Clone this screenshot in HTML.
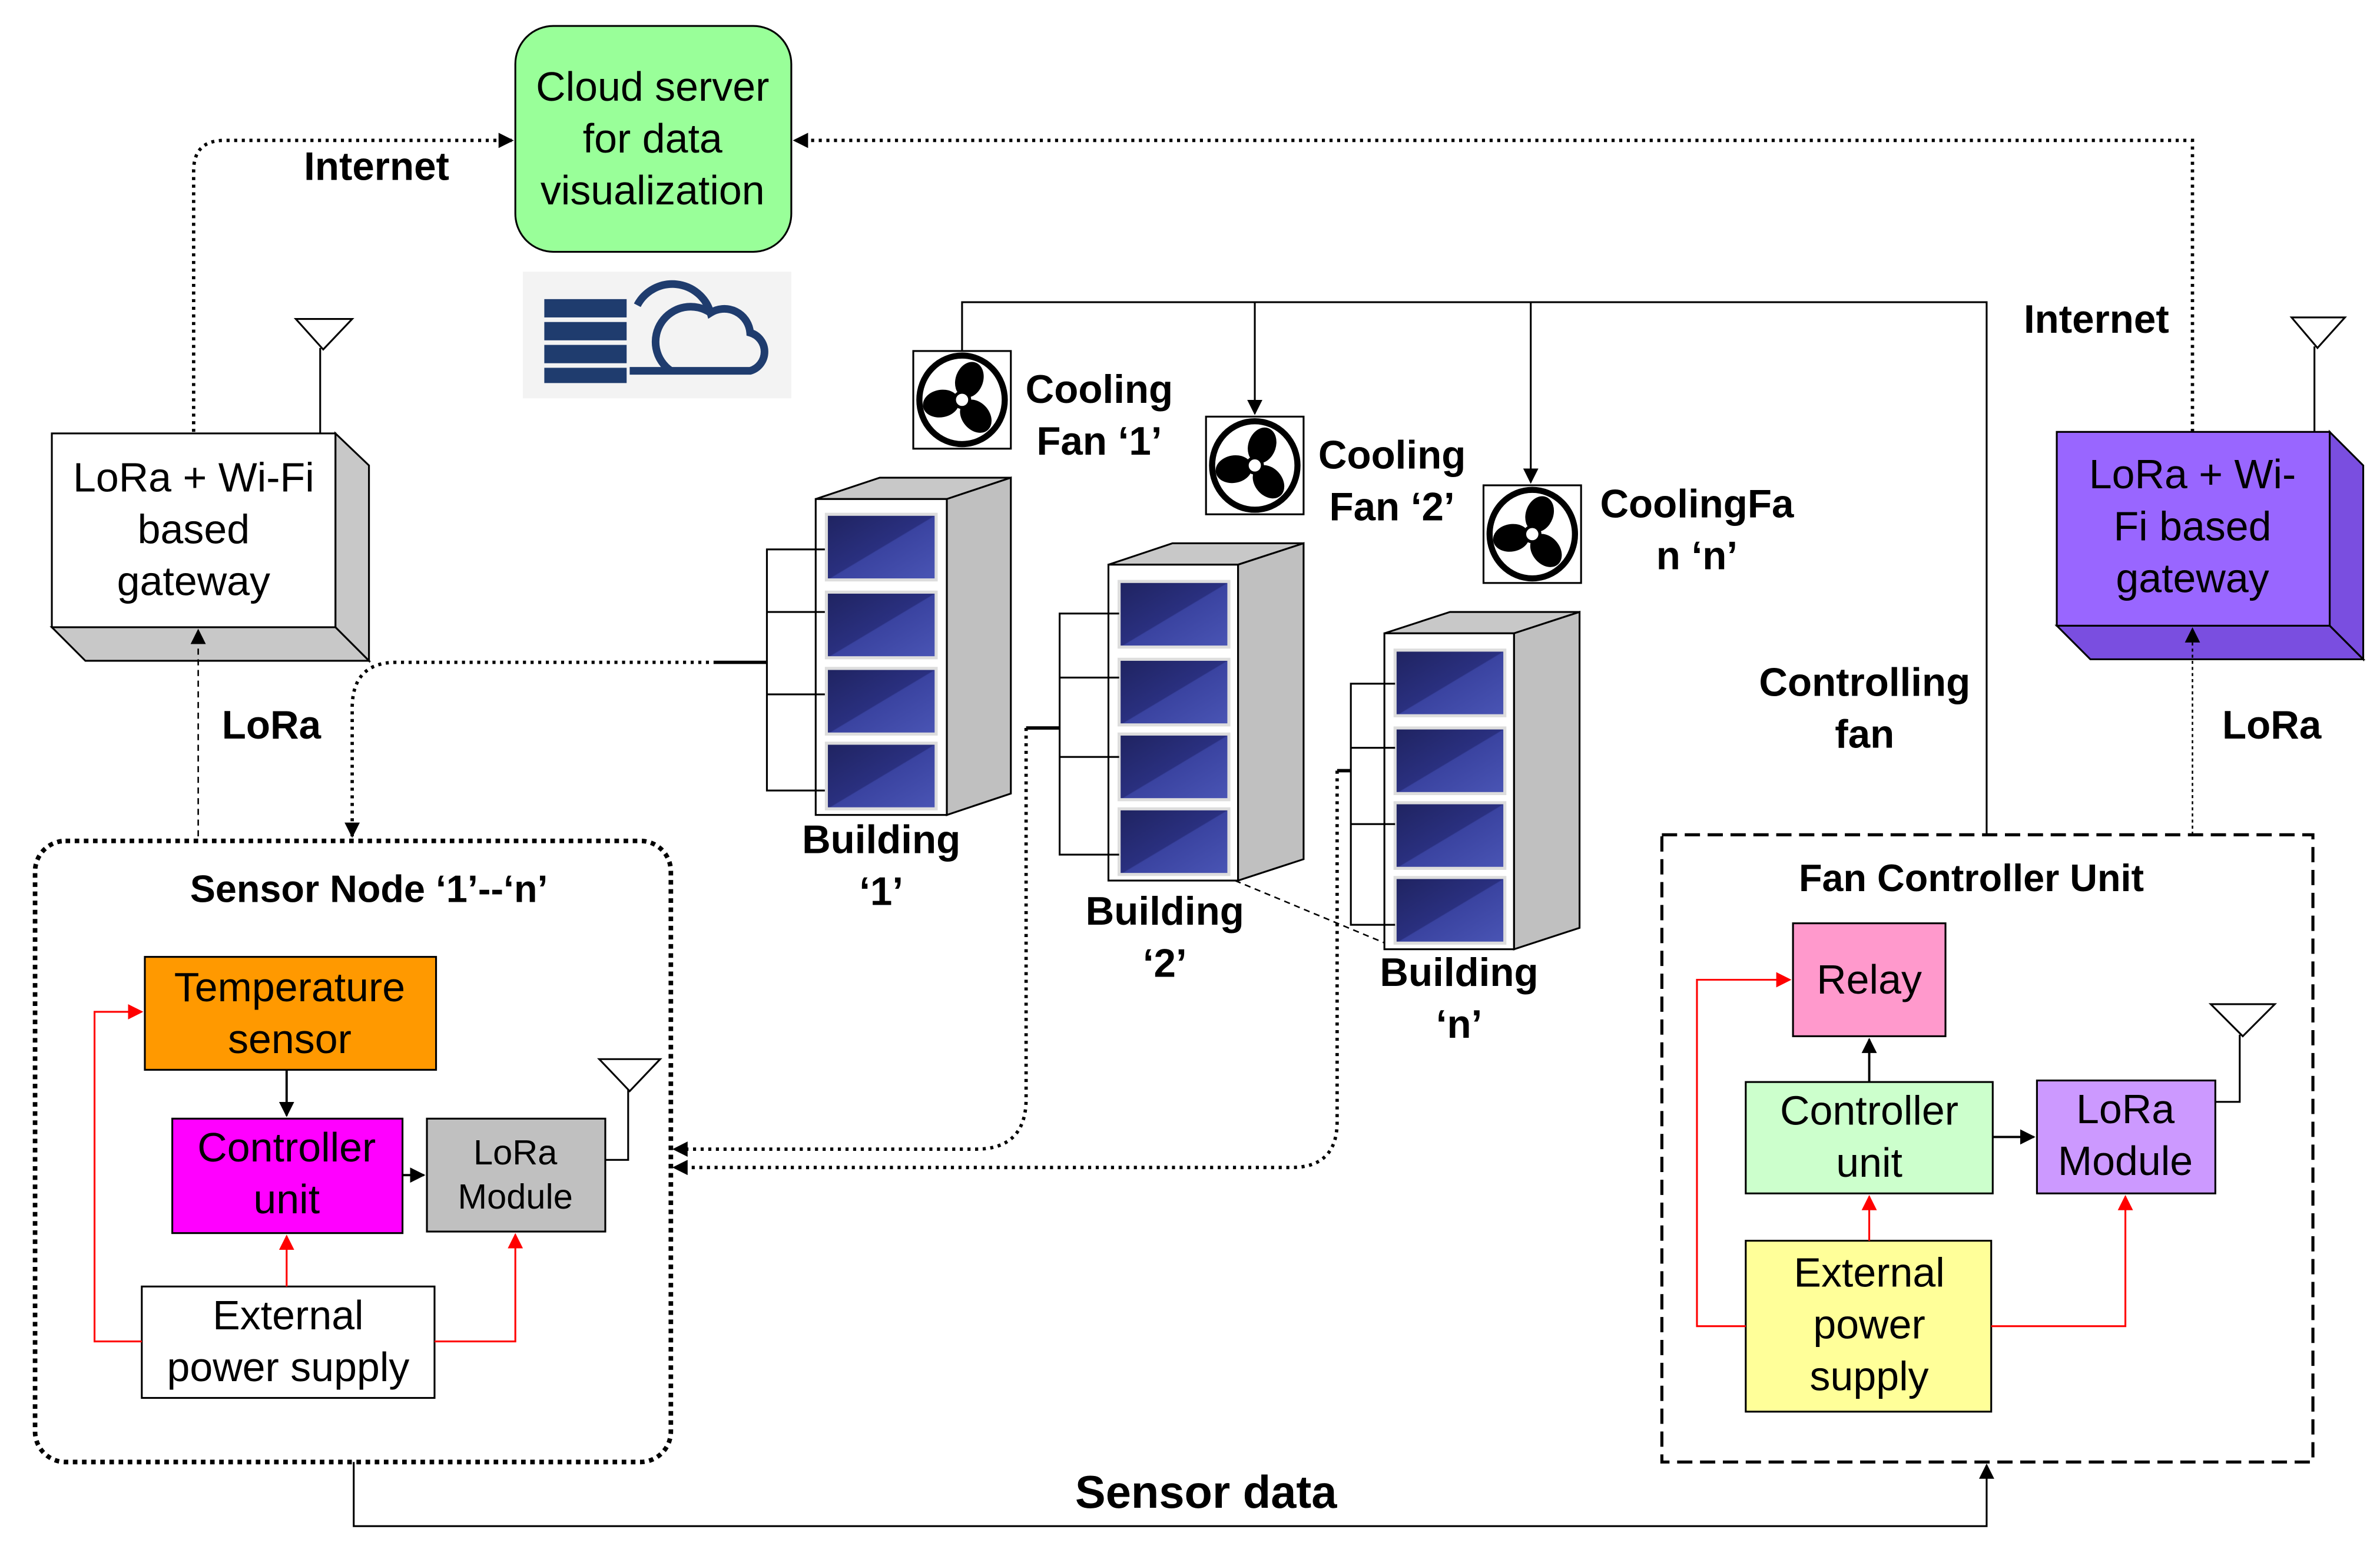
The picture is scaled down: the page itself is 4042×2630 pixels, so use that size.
<!DOCTYPE html>
<html><head><meta charset="utf-8"><style>
html,body{margin:0;padding:0;background:#fff;}
svg{display:block;}
text{font-family:"Liberation Sans",Arial,sans-serif;}
.t{font-size:27px;text-anchor:middle;fill:#000;}
.b{font-size:26px;font-weight:bold;text-anchor:middle;fill:#000;}
</style></head><body>
<svg width="4042" height="2630" viewBox="0 0 1561 1015" preserveAspectRatio="none" xmlns="http://www.w3.org/2000/svg">
<defs>
<marker id="ak" markerWidth="10" markerHeight="10" refX="9" refY="5" orient="auto" markerUnits="userSpaceOnUse"><path d="M0,0 L10,5 L0,10 z" fill="#000"/></marker>
<marker id="ar" markerWidth="10" markerHeight="10" refX="9" refY="5" orient="auto" markerUnits="userSpaceOnUse"><path d="M0,0 L10,5 L0,10 z" fill="#f00"/></marker>
<linearGradient id="pg" x1="0" y1="0" x2="1" y2="1"><stop offset="0" stop-color="#1f2360"/><stop offset="0.5" stop-color="#2a3080"/><stop offset="0.51" stop-color="#3a43a0"/><stop offset="1" stop-color="#4a55b5"/></linearGradient>
<g id="fan">
<rect x="0" y="0" width="64" height="64" fill="#fff" stroke="#000" stroke-width="1.2"/>
<ellipse cx="32" cy="32" rx="28" ry="29" fill="none" stroke="#000" stroke-width="4"/>
<g fill="#000">
<ellipse cx="32" cy="18" rx="9" ry="12" transform="rotate(20 32 32)"/>
<ellipse cx="32" cy="18" rx="9" ry="12" transform="rotate(140 32 32)"/>
<ellipse cx="32" cy="18" rx="9" ry="12" transform="rotate(260 32 32)"/>
</g>
<circle cx="32" cy="32" r="5" fill="#fff" stroke="#000" stroke-width="2"/>
</g>
<g id="panel"><rect x="0" y="0" width="72" height="43" fill="url(#pg)" stroke="#ddd" stroke-width="2"/></g>
</defs>

<!-- Cloud server -->
<rect x="338" y="17" width="181" height="148" rx="25" fill="#99ff99" stroke="#000" stroke-width="1.2"/>
<text class="t" x="428" y="66">Cloud server</text>
<text class="t" x="428" y="100">for data</text>
<text class="t" x="428" y="134">visualization</text>
<rect x="343" y="178" width="176" height="83" fill="#f3f3f3"/>
<g fill="#1f3c6e">
<rect x="357" y="196" width="54" height="12"/><rect x="357" y="211" width="54" height="12"/><rect x="357" y="226" width="54" height="12"/><rect x="357" y="241" width="54" height="10"/>
</g>
<path d="M413,243 L492,243 A13,13 0 0 0 492,218 A17,17 0 0 0 466,205 A26,26 0 0 0 418,200" fill="none" stroke="#1f3c6e" stroke-width="5"/>
<path d="M440,243 A17,17 0 0 1 466,205" fill="none" stroke="#1f3c6e" stroke-width="5"/>

<!-- Internet links -->
<text class="b" x="247" y="118">Internet</text>
<path d="M127,283 L127,112 Q127,92 147,92 L336,92" fill="none" stroke="#000" stroke-width="2.2" stroke-dasharray="2,3" marker-end="url(#ak)"/>
<path d="M1438,283 L1438,92 L521,92" fill="none" stroke="#000" stroke-width="2.2" stroke-dasharray="2,3" marker-end="url(#ak)"/>
<text class="b" x="1375" y="218">Internet</text>

<!-- Left gateway -->
<polygon points="220,284 242,305 242,433 220,411" fill="#c8c8c8" stroke="#000" stroke-width="1.2"/>
<polygon points="34,411 220,411 242,433 56,433" fill="#c8c8c8" stroke="#000" stroke-width="1.2"/>
<rect x="34" y="284" width="186" height="127" fill="#fff" stroke="#000" stroke-width="1.2"/>
<text class="t" x="127" y="322">LoRa + Wi-Fi</text>
<text class="t" x="127" y="356">based</text>
<text class="t" x="127" y="390">gateway</text>
<line x1="210" y1="284" x2="210" y2="228" stroke="#000" stroke-width="1.2"/>
<path d="M194,209 L231,209 L212,229 z" fill="#fff" stroke="#000" stroke-width="1.2"/>

<!-- Right gateway -->
<polygon points="1528,283 1550,305 1550,432 1528,410" fill="#7a4ee0" stroke="#000" stroke-width="1.2"/>
<polygon points="1349,410 1528,410 1550,432 1371,432" fill="#7a4ee0" stroke="#000" stroke-width="1.2"/>
<rect x="1349" y="283" width="179" height="127" fill="#9966ff" stroke="#000" stroke-width="1.2"/>
<text class="t" x="1438" y="320">LoRa + Wi-</text>
<text class="t" x="1438" y="354">Fi based</text>
<text class="t" x="1438" y="388">gateway</text>
<line x1="1518" y1="283" x2="1518" y2="227" stroke="#000" stroke-width="1.2"/>
<path d="M1503,208 L1538,208 L1520,228 z" fill="#fff" stroke="#000" stroke-width="1.2"/>

<!-- LoRa dashed -->
<text class="b" x="178" y="484">LoRa</text>
<text class="b" x="1490" y="484">LoRa</text>
<line x1="130" y1="548" x2="130" y2="413" stroke="#000" stroke-width="1" stroke-dasharray="4,3" marker-end="url(#ak)"/>
<line x1="1438" y1="547" x2="1438" y2="412" stroke="#000" stroke-width="1" stroke-dasharray="2,2" marker-end="url(#ak)"/>

<!-- Sensor node box -->
<rect x="23" y="551" width="417" height="407" rx="20" fill="none" stroke="#000" stroke-width="3" stroke-dasharray="3,3"/>
<text class="b" x="242" y="591" style="font-size:25px">Sensor Node ‘1’--‘n’</text>
<rect x="95" y="627" width="191" height="74" fill="#ff9900" stroke="#000" stroke-width="1.2"/>
<text class="t" x="190" y="656">Temperature</text>
<text class="t" x="190" y="690">sensor</text>
<rect x="113" y="733" width="151" height="75" fill="#ff00ff" stroke="#000" stroke-width="1.2"/>
<text class="t" x="188" y="761">Controller</text>
<text class="t" x="188" y="795">unit</text>
<rect x="280" y="733" width="117" height="74" fill="#c0c0c0" stroke="#000" stroke-width="1.2"/>
<text class="t" x="338" y="763" style="font-size:23px">LoRa</text>
<text class="t" x="338" y="792" style="font-size:23px">Module</text>
<rect x="93" y="843" width="192" height="73" fill="#fff" stroke="#000" stroke-width="1.2"/>
<text class="t" x="189" y="871">External</text>
<text class="t" x="189" y="905">power supply</text>
<line x1="188" y1="701" x2="188" y2="731" stroke="#000" stroke-width="1.5" marker-end="url(#ak)"/>
<line x1="264" y1="770" x2="278" y2="770" stroke="#000" stroke-width="1.5" marker-end="url(#ak)"/>
<path d="M93,879 L62,879 L62,663 L93,663" fill="none" stroke="#f00" stroke-width="1.2" marker-end="url(#ar)"/>
<line x1="188" y1="843" x2="188" y2="810" stroke="#f00" stroke-width="1.2" marker-end="url(#ar)"/>
<path d="M285,879 L338,879 L338,809" fill="none" stroke="#f00" stroke-width="1.2" marker-end="url(#ar)"/>
<path d="M397,760 L412,760 L412,714" fill="none" stroke="#000" stroke-width="1.2"/>
<path d="M393,694 L433,694 L413,715 z" fill="#fff" stroke="#000" stroke-width="1.2"/>

<!-- dotted data links -->
<path d="M470,434 L260,434 Q231,434 231,464 L231,548" fill="none" stroke="#000" stroke-width="2.2" stroke-dasharray="2,3" marker-end="url(#ak)"/>
<path d="M673,477 L673,720 Q673,753 640,753 L442,753" fill="none" stroke="#000" stroke-width="2.2" stroke-dasharray="2,3" marker-end="url(#ak)"/>
<path d="M877,505 L877,735 Q877,765 847,765 L442,765" fill="none" stroke="#000" stroke-width="2.2" stroke-dasharray="2,3" marker-end="url(#ak)"/>

<!-- Building 1 -->
<polygon points="535,327 577,313 663,313 621,327" fill="#c8c8c8" stroke="#000" stroke-width="1.2"/>
<polygon points="621,327 663,313 663,520 621,534" fill="#c0c0c0" stroke="#000" stroke-width="1.2"/>
<rect x="535" y="327" width="86" height="207" fill="#fff" stroke="#000" stroke-width="1.2"/>
<use href="#panel" x="542" y="337"/><use href="#panel" x="542" y="388"/><use href="#panel" x="542" y="438"/><use href="#panel" x="542" y="487"/>
<path d="M541,360 L503,360 L503,518 L541,518 M503,401 L541,401 M503,455 L541,455" fill="none" stroke="#000" stroke-width="1.2"/>
<line x1="470" y1="434" x2="503" y2="434" stroke="#000" stroke-width="2.2"/>
<text class="b" x="578" y="559">Building</text>
<text class="b" x="578" y="593">‘1’</text>

<!-- Building 2 -->
<polygon points="727,370 769,356 855,356 812,370" fill="#c8c8c8" stroke="#000" stroke-width="1.2"/>
<polygon points="812,370 855,356 855,563 812,577" fill="#c0c0c0" stroke="#000" stroke-width="1.2"/>
<rect x="727" y="370" width="85" height="207" fill="#fff" stroke="#000" stroke-width="1.2"/>
<use href="#panel" x="734" y="381"/><use href="#panel" x="734" y="432"/><use href="#panel" x="734" y="481"/><use href="#panel" x="734" y="530"/>
<path d="M734,402 L695,402 L695,560 L734,560 M695,444 L734,444 M695,496 L734,496" fill="none" stroke="#000" stroke-width="1.2"/>
<line x1="673" y1="477" x2="695" y2="477" stroke="#000" stroke-width="2.2"/>
<text class="b" x="764" y="606">Building</text>
<text class="b" x="764" y="640">‘2’</text>
<line x1="810" y1="577" x2="918" y2="622" stroke="#000" stroke-width="1" stroke-dasharray="4,3"/>

<!-- Building n -->
<polygon points="908,415 951,401 1036,401 993,415" fill="#c8c8c8" stroke="#000" stroke-width="1.2"/>
<polygon points="993,415 1036,401 1036,608 993,622" fill="#c0c0c0" stroke="#000" stroke-width="1.2"/>
<rect x="908" y="415" width="85" height="207" fill="#fff" stroke="#000" stroke-width="1.2"/>
<use href="#panel" x="915" y="426"/><use href="#panel" x="915" y="477"/><use href="#panel" x="915" y="526"/><use href="#panel" x="915" y="575"/>
<path d="M915,448 L886,448 L886,606 L915,606 M886,490 L915,490 M886,540 L915,540" fill="none" stroke="#000" stroke-width="1.2"/>
<line x1="877" y1="505" x2="886" y2="505" stroke="#000" stroke-width="2.2"/>
<text class="b" x="957" y="646">Building</text>
<text class="b" x="957" y="680">‘n’</text>

<!-- Fans -->
<use href="#fan" x="599" y="230"/>
<use href="#fan" x="791" y="273"/>
<use href="#fan" x="973" y="318"/>
<text class="b" x="721" y="264">Cooling</text>
<text class="b" x="721" y="298">Fan ‘1’</text>
<text class="b" x="913" y="307">Cooling</text>
<text class="b" x="913" y="341">Fan ‘2’</text>
<text class="b" x="1113" y="339">CoolingFa</text>
<text class="b" x="1113" y="373">n ‘n’</text>
<path d="M631,230 L631,198 L1303,198 L1303,547" fill="none" stroke="#000" stroke-width="1.2"/>
<line x1="823" y1="198" x2="823" y2="271" stroke="#000" stroke-width="1.2" marker-end="url(#ak)"/>
<line x1="1004" y1="198" x2="1004" y2="316" stroke="#000" stroke-width="1.2" marker-end="url(#ak)"/>
<text class="b" x="1223" y="456">Controlling</text>
<text class="b" x="1223" y="490">fan</text>

<!-- Fan controller unit -->
<rect x="1090" y="547" width="427" height="411" fill="none" stroke="#000" stroke-width="2" stroke-dasharray="10,5"/>
<text class="b" x="1293" y="584" style="font-size:25px">Fan Controller Unit</text>
<rect x="1176" y="605" width="100" height="74" fill="#ff99cc" stroke="#000" stroke-width="1.2"/>
<text class="t" x="1226" y="651">Relay</text>
<rect x="1145" y="709" width="162" height="73" fill="#ccffcc" stroke="#000" stroke-width="1.2"/>
<text class="t" x="1226" y="737">Controller</text>
<text class="t" x="1226" y="771">unit</text>
<rect x="1336" y="708" width="117" height="74" fill="#cc99ff" stroke="#000" stroke-width="1.2"/>
<text class="t" x="1394" y="736">LoRa</text>
<text class="t" x="1394" y="770">Module</text>
<rect x="1145" y="813" width="161" height="112" fill="#ffff99" stroke="#000" stroke-width="1.2"/>
<text class="t" x="1226" y="843">External</text>
<text class="t" x="1226" y="877">power</text>
<text class="t" x="1226" y="911">supply</text>
<line x1="1226" y1="709" x2="1226" y2="681" stroke="#000" stroke-width="1.5" marker-end="url(#ak)"/>
<line x1="1307" y1="745" x2="1334" y2="745" stroke="#000" stroke-width="1.5" marker-end="url(#ak)"/>
<path d="M1145,869 L1113,869 L1113,642 L1174,642" fill="none" stroke="#f00" stroke-width="1.2" marker-end="url(#ar)"/>
<line x1="1226" y1="813" x2="1226" y2="784" stroke="#f00" stroke-width="1.2" marker-end="url(#ar)"/>
<path d="M1306,869 L1394,869 L1394,784" fill="none" stroke="#f00" stroke-width="1.2" marker-end="url(#ar)"/>
<path d="M1453,722 L1469,722 L1469,678" fill="none" stroke="#000" stroke-width="1.2"/>
<path d="M1450,658 L1492,658 L1471,679 z" fill="#fff" stroke="#000" stroke-width="1.2"/>

<!-- Sensor data -->
<path d="M232,958 L232,1000 L1303,1000 L1303,960" fill="none" stroke="#000" stroke-width="1.2" marker-end="url(#ak)"/>
<text class="b" x="791" y="988" style="font-size:30px">Sensor data</text>
</svg>
</body></html>
